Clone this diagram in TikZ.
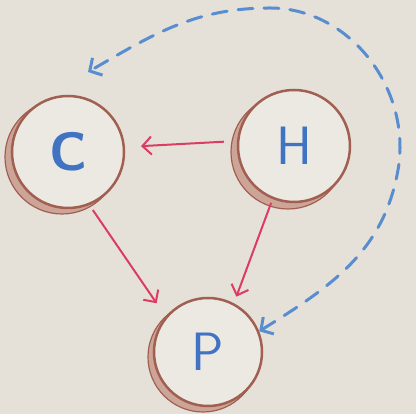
\documentclass[tikz,border=0pt]{standalone}
\usetikzlibrary{arrows.meta}
\definecolor{paper}{RGB}{229,225,217}
\definecolor{inner}{RGB}{236,233,227}
\definecolor{ringbrown}{RGB}{160,95,80}
\definecolor{shade}{RGB}{205,165,152}
\definecolor{arrred}{RGB}{218,60,98}
\definecolor{letterblue}{RGB}{65,115,195}
\definecolor{dashblue}{RGB}{88,142,208}
\begin{document}
\begin{tikzpicture}[x=1pt,y=1pt,
  ball/.style={circle, draw=ringbrown, line width=2.5pt, fill=inner,
    minimum size=112pt, inner sep=0pt, text=letterblue,
    font=\sffamily\fontsize{54}{54}\selectfont},
  shadow/.style={fill=shade, draw=ringbrown, line width=1.2pt},
  redarrow/.style={draw=arrred, line width=2pt,
    -{Straight Barb[length=9pt,width=18pt]}},
  bluearrow/.style={draw=dashblue, line width=3pt, line cap=round,
    dash pattern=on 15pt off 11pt,
    {Straight Barb[length=9pt,width=20pt]}-{Straight Barb[length=9pt,width=20pt]}}]
\useasboundingbox (0,0) rectangle (416,414);
\fill[paper] (0,0) rectangle (416,414);
% centres
\coordinate (cC) at (68,262);
\coordinate (cH) at (294,268);
\coordinate (cP) at (208,62);
% crescent shadows
\filldraw[shadow] ([shift={(-6,-5)}]cC) circle (57pt);
\filldraw[shadow] ([shift={(-6,-6)}]cH) circle (57pt);
\filldraw[shadow] ([shift={(-5,-5)}]cP) circle (55pt);
% nodes
\node[ball] (C) at (cC) {\textbf{C}};
\node[ball] (H) at (cH) {H};
\node[ball, minimum size=108pt] (P) at (cP) {P};
% red arrows
\draw[redarrow, shorten <=13pt, shorten >=16pt] (H.175) -- (C.5);
\draw[redarrow, shorten <=6pt, shorten >=16pt] (C.-68) -- (P.140);
\draw[redarrow, shorten <=4pt, shorten >=7pt] (H.-112) -- (P.62);
% blue dashed arc
\coordinate (tgt) at (88,342);
\draw[bluearrow] (P.22) to[out=32,in=-100] (398,244)
  to[out=80,in=0] (270,406)
  to[out=180,in=30] (tgt);
\end{tikzpicture}
\end{document}
